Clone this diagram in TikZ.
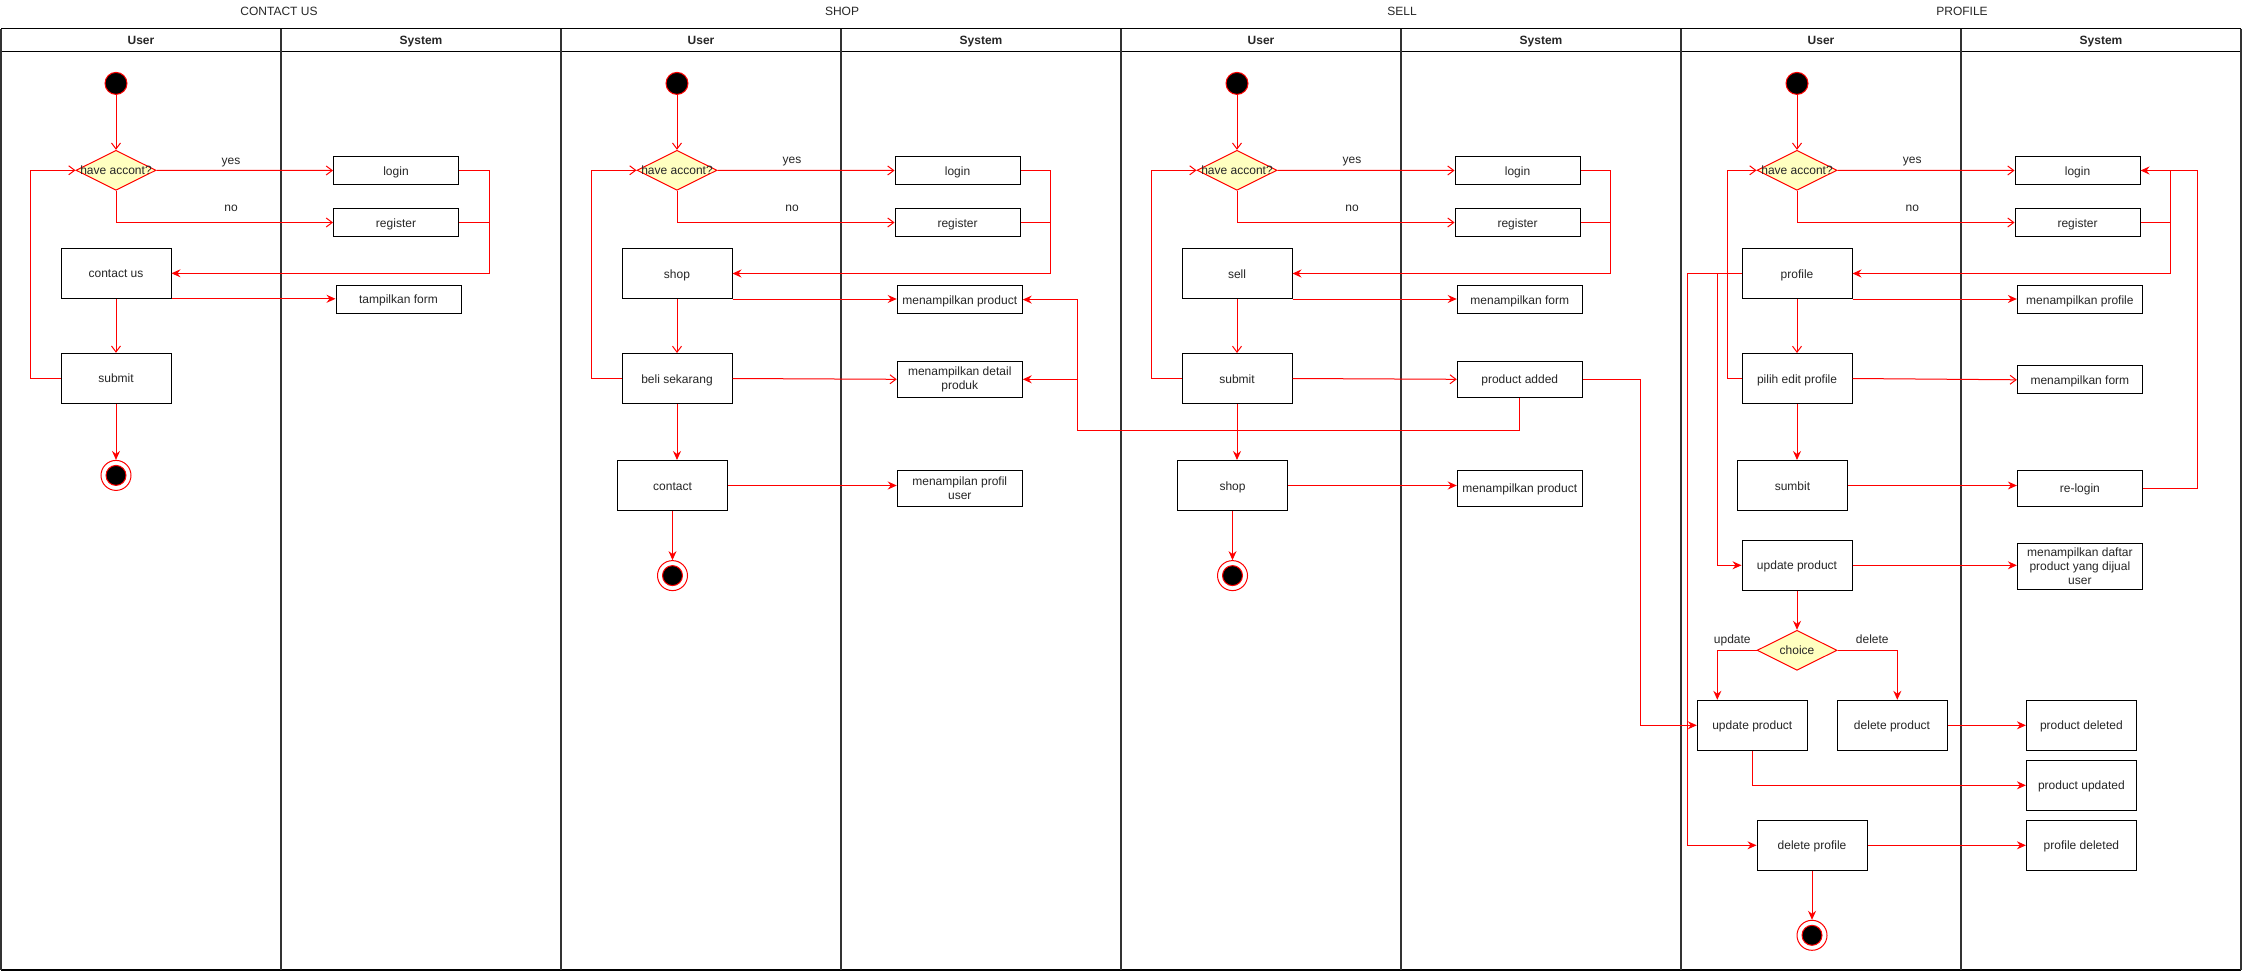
\documentclass[tikz,border=0pt]{standalone}
\usepackage{fontspec}
\setmainfont{Liberation Sans}
\usetikzlibrary{arrows.meta,shapes.geometric,calc}
\definecolor{dfill}{HTML}{FFFFC0}
\definecolor{lanec}{HTML}{333333}
\begin{document}
\begin{tikzpicture}[x=1pt,y=-1pt,
  ftx/.style={font=\fontsize{12}{14}\selectfont, text=black!85},
  one/.style={text height=11.2pt, text depth=2pt},
  act/.style={draw=black, line width=1pt, fill=white, minimum width=110pt, minimum height=50pt, inner sep=1pt, align=center, ftx, one},
  sys/.style={act, minimum width=125pt, minimum height=28pt},
  sysb/.style={act, minimum width=125pt, minimum height=36pt},
  multi/.style={text height={}, text depth={}},
  dec/.style={shape=diamond, draw=red, line width=1pt, fill=dfill, minimum width=80pt, minimum height=40pt, inner sep=0pt},
  initn/.style={circle, draw=red, line width=1pt, fill=black, minimum size=22pt, inner sep=0pt},
  finn/.style={circle, draw=red, line width=1pt, fill=white, minimum size=30pt, inner sep=0pt,
     path picture={\filldraw[fill=black, draw=red, line width=1pt] (path picture bounding box.center) circle (10pt);}},
  opn/.style={draw=red, line width=1pt, -{Straight Barb[length=6pt,width=9pt]}},
  fil/.style={draw=red, line width=1pt, -{Stealth[length=9pt,width=8pt,inset=3pt]}},
  ln/.style={draw=red, line width=1pt},
  lbl/.style={ftx, one, inner sep=1pt},
  hd/.style={font=\fontsize{12}{14}\selectfont\bfseries, text=black!85, one},
  ttl/.style={font=\fontsize{12}{14}\selectfont, text=black!85, one},
  hline/.style={draw=black, line width=1.2pt},
  vline/.style={draw=lanec, line width=1.6pt}
]
\useasboundingbox (0,0) rectangle (2242,971);
\fill[white] (0,0) rectangle (2242,971);

% ---------------- pools ----------------
\draw[hline] (1,28.7) -- (2241,28.7);
\draw[hline] (1,51.3) -- (2241,51.3);
\draw[hline] (1,970) -- (2241,970);
\foreach \xx in {1,281,...,2241} \draw[vline] (\xx,28.7) -- (\xx,970);
\node[ttl] (t1) at (279,10.5) {CONTACT US};
\node[ttl] (t2) at (842,10.5) {SHOP};
\node[ttl] (t3) at (1402,10.5) {SELL};
\node[ttl] (t4) at (1962,10.5) {PROFILE};
\foreach \k in {0,1,2,3} {
  \node[hd] at (141+560*\k,40) {User};
  \node[hd] at (421+560*\k,40) {System};
}

% ---------------- CONTACT US ----------------
\node[initn] (s1) at (116,83.4) {};
\node[dec, label={[ftx,one]center:have accont?}] (d1) at (116,170.3) {};
\node[sys] (lg1) at (396,170.5) {login};
\node[sys] (rg1) at (396,222.5) {register};
\node[act] (cu) at (116,273.3) {contact us};
\node[sys] (tf1) at (398.5,299.3) {tampilkan form};
\node[act] (sb1) at (116,378.3) {submit};
\node[finn] (e1) at (116,475.4) {};

\draw[opn] (s1) -- (d1);
\draw[opn] (d1.east) -- (lg1.west);
\draw[opn] (d1.south) |- (rg1.west);
\draw[fil] (lg1.east) -- ++(30,0) |- (cu.east);
\draw[ln] (rg1.east) -- ++(30,0);
\draw[fil] (cu.south east) -- (cu.south east -| tf1.west);
\draw[opn] (cu) -- (sb1);
\draw[opn] (sb1.west) -- ++(-30,0) |- (d1.west);
\draw[fil] (sb1) -- (e1);
\node[lbl] at (231,159.5) {yes};
\node[lbl] at (231,207) {no};

% ---------------- SHOP ----------------
\node[initn] (s2) at (677,83.4) {};
\node[dec, label={[ftx,one]center:have accont?}] (d2) at (677,170.3) {};
\node[sys] (lg2) at (957.5,170.5) {login};
\node[sys] (rg2) at (957.5,222.5) {register};
\node[act] (shp) at (677,273.5) {shop};
\node[sys] (mp2) at (959.75,299.6) {menampilkan product};
\node[act] (bl) at (677,378.5) {beli sekarang};
\node[sysb, multi] (mdp) at (959.75,379.3) {menampilkan detail\\produk};
\node[act] (ct) at (672.5,485.5) {contact};
\node[sysb, multi] (mpu) at (959.75,488.3) {menampilan profil\\user};
\node[finn] (e2) at (672.5,575.6) {};

\draw[opn] (s2) -- (d2);
\draw[opn] (d2.east) -- (lg2.west);
\draw[opn] (d2.south) |- (rg2.west);
\draw[fil] (lg2.east) -- ++(30,0) |- (shp.east);
\draw[ln] (rg2.east) -- ++(30,0);
\draw[fil] (shp.south east) -- (shp.south east -| mp2.west);
\draw[opn] (shp) -- (bl);
\draw[opn] (bl.east) -- (mdp.west);
\draw[fil] (bl.south) -- (bl.south |- ct.north);
\draw[fil] (ct.east) -- (ct.east -| mpu.west);
\draw[fil] (ct) -- (e2);
\draw[opn] (bl.west) -- ++(-30,0) |- (d2.west);
\node[lbl] at (792,159.2) {yes};
\node[lbl] at (792,206.5) {no};

% ---------------- SELL ----------------
\node[initn] (s3) at (1237,83.4) {};
\node[dec, label={[ftx,one]center:have accont?}] (d3) at (1237,170.3) {};
\node[sys] (lg3) at (1517.5,170.5) {login};
\node[sys] (rg3) at (1517.5,222.5) {register};
\node[act] (sel) at (1237,273.5) {sell};
\node[sys] (mf3) at (1519.75,299.6) {menampilkan form};
\node[act] (sb3) at (1237,378.5) {submit};
\node[sysb] (pa) at (1519.75,379.3) {product added};
\node[act] (sh3) at (1232.5,485.5) {shop};
\node[sysb] (mp3) at (1519.75,488.3) {menampilkan product};
\node[finn] (e3) at (1232.5,575.6) {};

\draw[opn] (s3) -- (d3);
\draw[opn] (d3.east) -- (lg3.west);
\draw[opn] (d3.south) |- (rg3.west);
\draw[fil] (lg3.east) -- ++(30,0) |- (sel.east);
\draw[ln] (rg3.east) -- ++(30,0);
\draw[fil] (sel.south east) -- (sel.south east -| mf3.west);
\draw[opn] (sel) -- (sb3);
\draw[opn] (sb3.east) -- (pa.west);
\draw[fil] (sb3.south) -- (sb3.south |- sh3.north);
\draw[fil] (sh3.east) -- (sh3.east -| mp3.west);
\draw[fil] (sh3) -- (e3);
\draw[opn] (sb3.west) -- ++(-30,0) |- (d3.west);
\node[lbl] at (1352,159.2) {yes};
\node[lbl] at (1352,206.5) {no};

% ---------------- PROFILE ----------------
\node[initn] (s4) at (1797,83.4) {};
\node[dec, label={[ftx,one]center:have accont?}] (d4) at (1797,170.3) {};
\node[sys] (lg4) at (2077.5,170.5) {login};
\node[sys] (rg4) at (2077.5,222.5) {register};
\node[act] (prf) at (1797,273.5) {profile};
\node[sys] (mpr) at (2079.85,299.6) {menampilkan profile};
\node[act] (pep) at (1797,378.5) {pilih edit profile};
\node[sys] (mf4) at (2079.85,379.8) {menampilkan form};
\node[act] (smt) at (1792.4,485.5) {sumbit};
\node[sysb] (rl) at (2079.85,488.3) {re-login};
\node[act] (up1) at (1797,565.3) {update product};
\node[sys, multi, minimum height=46pt] (mdf) at (2079.85,566.3) {menampilkan daftar\\product yang dijual\\user};
\node[dec, label={[ftx,one]center:choice}] (ch) at (1797,650.3) {};
\node[act] (up2) at (1752.3,725.3) {update product};
\node[act] (dp) at (1892,725.3) {delete product};
\node[act] (pd) at (2081.4,725.3) {product deleted};
\node[act] (pu) at (2081.4,785.3) {product updated};
\node[act] (prd) at (2081.4,845.3) {profile deleted};
\node[act] (dpr) at (1812,845.3) {delete profile};
\node[finn] (e4) at (1812,935.3) {};

\draw[opn] (s4) -- (d4);
\draw[opn] (d4.east) -- (lg4.west);
\draw[opn] (d4.south) |- (rg4.west);
\draw[fil] (lg4.east) -- ++(30,0) |- (prf.east);
\draw[ln] (rg4.east) -- ++(30,0);
\draw[fil] (rl.east) -- ++(54.6,0) |- (lg4.east);
\draw[fil] (prf.south east) -- (prf.south east -| mpr.west);
\draw[opn] (prf) -- (pep);
\draw[opn] (pep.east) -- (mf4.west);
\draw[fil] (pep.south) -- (pep.south |- smt.north);
\draw[fil] (smt.east) -- (smt.east -| rl.west);
\draw[opn] (pep.west) -- ++(-14,0) |- (d4.west);
\draw[fil] (prf.west) -- ++(-54,0) |- (dpr.west);
\draw[fil] (prf.west) -- ++(-24,0) |- (up1.west);
\draw[fil] (up1.east) -- (up1.east -| mdf.west);
\draw[fil] (up1) -- (ch);
\draw[fil] (ch.west) -| ($(up2.north west)+(20.5,0)$);
\draw[fil] (ch.east) -| ($(dp.north)+(5.3,0)$);
\draw[fil] (dp.east) -- (pd.west);
\draw[fil] (up2.south) |- (pu.west);
\draw[fil] (dpr.east) -- (prd.west);
\draw[fil] (dpr) -- (e4);
\node[lbl] at (1912.3,159.2) {yes};
\node[lbl] at (1912.3,206.5) {no};
\node[lbl] at (1732.3,639.2) {update};
\node[lbl] at (1872.3,639.2) {delete};

% ---------------- cross-pool connectors ----------------
\coordinate (j1) at (1077,430.5);
\draw[fil] (pa.south) |- (j1) |- (mp2.east);
\draw[fil] (j1 |- mdp.east) -- (mdp.east);
\draw[fil] (pa.east) -- ++(57.4,0) |- (up2.west);
\end{tikzpicture}
\end{document}
